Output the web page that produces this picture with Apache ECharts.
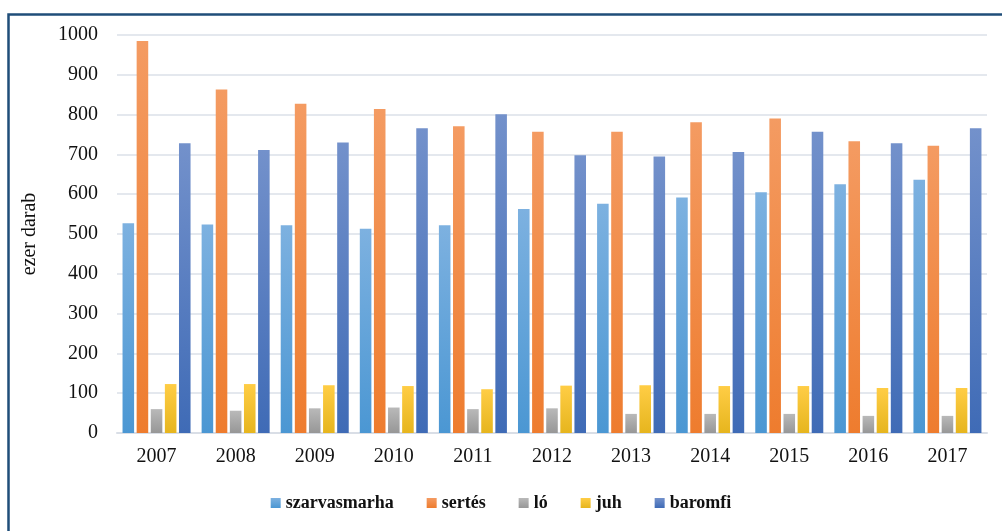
<!DOCTYPE html>
<html>
<head>
<meta charset="utf-8">
<script src="https://cdn.jsdelivr.net/npm/echarts@6/dist/echarts.min.js"></script>
<style>
html,body{margin:0;padding:0;background:#fff;}
#chart{width:1002px;height:531px;}
</style>
</head>
<body>
<div id="chart"></div>
<script>
var years = ['2007','2008','2009','2010','2011','2012','2013','2014','2015','2016','2017'];
var szarvasmarha = [527, 524, 522, 513, 522, 563, 576, 592, 605, 625, 636];
var sertes = [985, 863, 827, 814, 771, 757, 757, 781, 790, 733, 722];
var lo = [60, 56, 62, 64, 60, 62, 48, 48, 48, 43, 43];
var juh = [123, 123, 120, 118, 110, 119, 120, 118, 118, 113, 113];
var baromfi = [728, 711, 730, 766, 801, 698, 695, 706, 757, 728, 766];

function grad(top, bottom) {
    return new echarts.graphic.LinearGradient(0, 0, 0, 1, [
        {offset: 0, color: top},
        {offset: 1, color: bottom}
    ]);
}

var serif = '"Liberation Serif", "DejaVu Serif", serif';
var myChart = echarts.init(document.getElementById('chart'));

function bar(name, data, top, bottom) {
    return {
        name: name,
        type: 'bar',
        data: data,
        barGap: '22%',
        barCategoryGap: '14%',
        itemStyle: {color: grad(top, bottom)}
    };
}

myChart.setOption({
    animation: false,
    graphic: [{
        type: 'rect',
        left: 6, top: 12,
        shape: {width: 1100, height: 600},
        style: {fill: 'none', stroke: '#1F4E79', lineWidth: 2.5},
        silent: true
    }],
    grid: {left: 117, right: 15, top: 35, bottom: 98},
    legend: {
        bottom: 14,
        left: 'center',
        icon: 'rect',
        itemWidth: 10,
        itemHeight: 10,
        itemGap: 33,
        textStyle: {fontFamily: serif, fontWeight: 'bold', fontSize: 18, color: '#111'},
        data: ['szarvasmarha', 'sertés', 'ló', 'juh', 'baromfi']
    },
    xAxis: {
        type: 'category',
        data: years,
        axisTick: {show: false},
        axisLine: {lineStyle: {color: '#D9DEE6', width: 2}},
        axisLabel: {fontFamily: serif, fontSize: 20, color: '#111', margin: 14}
    },
    yAxis: {
        type: 'value',
        min: 0, max: 1000, interval: 100,
        name: 'ezer darab',
        nameLocation: 'middle',
        nameGap: 77,
        nameTextStyle: {fontFamily: serif, fontSize: 20, color: '#111'},
        axisLabel: {
            fontFamily: serif, fontSize: 20, color: '#111', margin: 19,
            formatter: function (v) { return String(v); }
        },
        splitLine: {lineStyle: {color: '#E4E8EE', width: 2}}
    },
    series: [
        bar('szarvasmarha', szarvasmarha, '#7DB1E0', '#4B97D3'),
        bar('sertés', sertes, '#F49B62', '#EE7C2E'),
        bar('ló', lo, '#B9B9B9', '#979797'),
        bar('juh', juh, '#FFCD45', '#E6B51E'),
        bar('baromfi', baromfi, '#7391CB', '#3F6BB6')
    ]
});
</script>
</body>
</html>
